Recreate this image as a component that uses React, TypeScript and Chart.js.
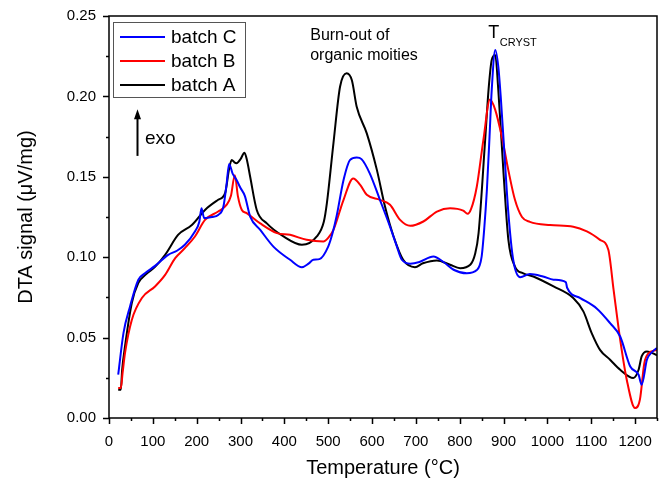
import React, { useEffect, useRef } from "react";
import { Chart, registerables } from "chart.js";

Chart.register(...registerables);

// batch C (blue)
const tempsC = [21, 33, 48, 67, 82, 105, 135, 155, 173, 196, 206, 211, 217, 235, 249, 261, 268, 274, 282, 291, 300, 310, 322, 345, 375, 413, 440, 455, 466, 480, 500, 510, 519, 535, 550, 565, 576, 595, 618, 641, 655, 668, 687, 708, 740, 763, 786, 816, 839, 850, 856, 862, 868, 873, 881, 888, 894, 900, 911, 922, 938, 960, 990, 1014, 1042, 1045, 1075, 1113, 1143, 1166, 1189, 1208, 1215, 1227, 1238, 1250];
const valuesC = [0.027, 0.0528, 0.0694, 0.086, 0.09, 0.0946, 0.1015, 0.104, 0.1077, 0.116, 0.122, 0.1305, 0.1243, 0.125, 0.1263, 0.1315, 0.145, 0.158, 0.152, 0.148, 0.143, 0.138, 0.1253, 0.117, 0.1066, 0.0984, 0.0938, 0.096, 0.0984, 0.0988, 0.1066, 0.115, 0.1253, 0.148, 0.1605, 0.162, 0.161, 0.152, 0.1357, 0.119, 0.108, 0.0984, 0.096, 0.097, 0.1004, 0.097, 0.0922, 0.09, 0.092, 0.1004, 0.118, 0.142, 0.175, 0.204, 0.2289, 0.2185, 0.198, 0.173, 0.1274, 0.0984, 0.0876, 0.0895, 0.088, 0.086, 0.0845, 0.081, 0.0746, 0.068, 0.059, 0.0507, 0.032, 0.0269, 0.0207, 0.0362, 0.0408, 0.0436];

// batch B (red)
const tempsB = [21, 27, 31, 36.5, 52, 75, 105, 128, 151, 173, 196, 219, 249, 268, 278, 287, 294, 303, 314, 345, 383, 413, 451, 489, 500, 512, 535, 557, 573, 588, 618, 641, 664, 687, 717, 748, 778, 808, 818, 826, 839, 854, 869, 881, 896, 911, 926, 942, 960, 1006, 1059, 1090, 1120, 1139, 1151, 1166, 1181, 1200, 1211, 1221, 1230, 1250];
const valuesB = [0.0186, 0.0186, 0.028, 0.0404, 0.061, 0.0746, 0.0818, 0.089, 0.0994, 0.1056, 0.1129, 0.1232, 0.1284, 0.1325, 0.138, 0.151, 0.138, 0.1294, 0.1274, 0.121, 0.115, 0.1139, 0.1108, 0.1097, 0.112, 0.117, 0.1357, 0.149, 0.145, 0.1388, 0.1357, 0.1326, 0.1232, 0.1195, 0.1222, 0.1284, 0.1305, 0.129, 0.127, 0.13, 0.144, 0.173, 0.198, 0.1916, 0.175, 0.154, 0.1357, 0.125, 0.122, 0.12, 0.119, 0.116, 0.1108, 0.1046, 0.0797, 0.0487, 0.0238, 0.0062, 0.0114, 0.034, 0.04, 0.0424];

// batch A (black)
const tempsA = [21, 27, 30, 36.5, 52, 67, 85, 105, 128, 158, 189, 219, 249, 265, 274, 280, 286, 291, 300, 309, 315, 322, 337, 360, 398, 440, 474, 490, 497, 512, 527, 542, 554, 565, 588, 611, 630, 649, 671, 698, 716, 748, 778, 801, 824, 835, 843, 858, 866, 873, 881, 888, 900, 911, 926, 945, 968, 1014, 1059, 1082, 1101, 1120, 1143, 1166, 1196, 1208, 1215, 1227, 1250];
const valuesA = [0.0176, 0.0176, 0.03, 0.0445, 0.0715, 0.084, 0.0895, 0.094, 0.1015, 0.114, 0.12, 0.1294, 0.1357, 0.14, 0.155, 0.1605, 0.159, 0.1585, 0.161, 0.165, 0.16, 0.15, 0.1294, 0.121, 0.1129, 0.1077, 0.1129, 0.122, 0.1336, 0.171, 0.206, 0.2144, 0.21, 0.1936, 0.177, 0.1543, 0.131, 0.113, 0.0984, 0.0938, 0.0962, 0.098, 0.0953, 0.0932, 0.0953, 0.102, 0.115, 0.173, 0.205, 0.2227, 0.2258, 0.204, 0.152, 0.1108, 0.0942, 0.09, 0.088, 0.0818, 0.0746, 0.0663, 0.0528, 0.0424, 0.0362, 0.03, 0.0249, 0.03, 0.0383, 0.0414, 0.039];

const seriesNames = ["batch C", "batch B", "batch A"];
const seriesColors = ["#0000ff", "#ff0000", "#000000"];

const xMin = 0, xMax = 1250, xMajor = 100, xMinor = 50;
const yMin = 0, yMax = 0.25, yMajor = 0.05, yMinor = 0.025;

const FONT = "Arial, 'Liberation Sans', sans-serif";

const toPoints = (xs: number[], ys: number[]) => xs.map((x, i) => ({ x, y: ys[i] }));

const decorPlugin = {
  id: "decor",
  afterDraw(chart: any) {
    const { ctx, chartArea, scales } = chart;
    const xs = scales.x, ys = scales.y;
    ctx.save();
    // frame
    ctx.strokeStyle = "#000";
    ctx.lineWidth = 1.5;
    ctx.strokeRect(chartArea.left, chartArea.top, chartArea.right - chartArea.left, chartArea.bottom - chartArea.top);
    // ticks
    ctx.lineWidth = 1.5;
    ctx.beginPath();
    for (let v = xMin; v <= xMax + 1e-9; v += xMinor) {
      const px = Math.round(xs.getPixelForValue(v)) + 0.5;
      const len = Math.abs(v % xMajor) < 1e-9 ? 6 : 3;
      ctx.moveTo(px, chartArea.bottom);
      ctx.lineTo(px, chartArea.bottom + len);
    }
    for (let i = 0; i <= Math.round((yMax - yMin) / yMinor); i++) {
      const v = yMin + i * yMinor;
      const py = Math.round(ys.getPixelForValue(v)) + 0.5;
      const len = i % 2 === 0 ? 6 : 3;
      ctx.moveTo(chartArea.left, py);
      ctx.lineTo(chartArea.left - len, py);
    }
    ctx.stroke();

    // legend
    const lx = chartArea.left + 4, ly = chartArea.top + 6;
    ctx.fillStyle = "#fff";
    ctx.fillRect(lx, ly, 132, 75);
    ctx.strokeStyle = "#555";
    ctx.lineWidth = 1;
    ctx.strokeRect(lx + 0.5, ly + 0.5, 132, 75);
    ctx.font = `19px ${FONT}`;
    ctx.textBaseline = "middle";
    ctx.textAlign = "left";
    seriesNames.forEach((name, i) => {
      const rowY = ly + 15 + i * 24;
      ctx.strokeStyle = seriesColors[i];
      ctx.lineWidth = 2;
      ctx.beginPath();
      ctx.moveTo(lx + 7, rowY);
      ctx.lineTo(lx + 52, rowY);
      ctx.stroke();
      ctx.fillStyle = "#000";
      ctx.fillText(name, lx + 58, rowY + 1);
    });

    // annotations
    ctx.fillStyle = "#000";
    ctx.font = `16px ${FONT}`;
    ctx.fillText("Burn-out of", xs.getPixelForValue(459), ys.getPixelForValue(0.238));
    ctx.fillText("organic moities", xs.getPixelForValue(459), ys.getPixelForValue(0.2255));
    ctx.font = `18px ${FONT}`;
    const tx = xs.getPixelForValue(865);
    ctx.fillText("T", tx, ys.getPixelForValue(0.2395));
    const tw = ctx.measureText("T").width;
    ctx.font = `11px ${FONT}`;
    ctx.fillText("CRYST", tx + tw + 0.5, ys.getPixelForValue(0.2333));

    // exo arrow
    const ax = Math.round(xs.getPixelForValue(64)) + 0.5;
    const aBot = ys.getPixelForValue(0.163);
    const aTop = ys.getPixelForValue(0.192);
    ctx.strokeStyle = "#000";
    ctx.lineWidth = 2;
    ctx.beginPath();
    ctx.moveTo(ax, aBot);
    ctx.lineTo(ax, aTop + 8);
    ctx.stroke();
    ctx.beginPath();
    ctx.moveTo(ax, aTop);
    ctx.lineTo(ax - 3.5, aTop + 10);
    ctx.lineTo(ax + 3.5, aTop + 10);
    ctx.closePath();
    ctx.fill();
    ctx.font = `19px ${FONT}`;
    ctx.fillText("exo", xs.getPixelForValue(82), ys.getPixelForValue(0.1735));
    ctx.restore();
  },
};

export default function App() {
  const ref = useRef<HTMLCanvasElement | null>(null);
  useEffect(() => {
    if (!ref.current) return;
    const all = [
      toPoints(tempsC, valuesC),
      toPoints(tempsB, valuesB),
      toPoints(tempsA, valuesA),
    ];
    const chart = new Chart(ref.current, {
      type: "line",
      data: {
        datasets: all.map((d, i) => ({
          label: seriesNames[i],
          data: d,
          borderColor: seriesColors[i],
          backgroundColor: seriesColors[i],
          borderWidth: 2,
          pointRadius: 0,
          fill: false,
          cubicInterpolationMode: "monotone" as const,
        })),
      },
      options: {
        animation: false,
        responsive: false,
        maintainAspectRatio: false,
        layout: { padding: { top: 16, right: 10, left: 0, bottom: 0 } },
        plugins: { legend: { display: false }, tooltip: { enabled: false } },
        scales: {
          x: {
            type: "linear",
            min: xMin,
            max: xMax,
            border: { display: false },
            grid: { display: false },
            ticks: {
              stepSize: xMinor,
              autoSkip: false,
              maxRotation: 0,
              padding: 7,
              color: "#000",
              font: { family: FONT, size: 15 },
              callback: (v: any) => (Math.abs(Number(v) % xMajor) < 1e-9 ? String(v) : ""),
            },
            title: {
              display: true,
              text: "Temperature (°C)",
              color: "#000",
              font: { family: FONT, size: 20 },
              padding: { top: 0, bottom: 6 },
            },
            afterFit: (s: any) => { s.height = 68; },
          },
          y: {
            type: "linear",
            min: yMin,
            max: yMax,
            border: { display: false },
            grid: { display: false },
            ticks: {
              stepSize: yMajor,
              padding: 5,
              color: "#000",
              font: { family: FONT, size: 15 },
              callback: (v: any) => Number(v).toFixed(2),
            },
            title: {
              display: true,
              text: "DTA signal (μV/mg)",
              color: "#000",
              font: { family: FONT, size: 20 },
              padding: { top: 14, bottom: 0 },
            },
            afterFit: (s: any) => { s.width = 109; },
          },
        },
      },
      plugins: [decorPlugin],
    });
    return () => chart.destroy();
  }, []);
  return (
    <div style={{ position: "fixed", left: 0, top: 0, width: 667, height: 486, background: "#fff" }}>
      <canvas ref={ref} width={667} height={486} />
    </div>
  );
}
